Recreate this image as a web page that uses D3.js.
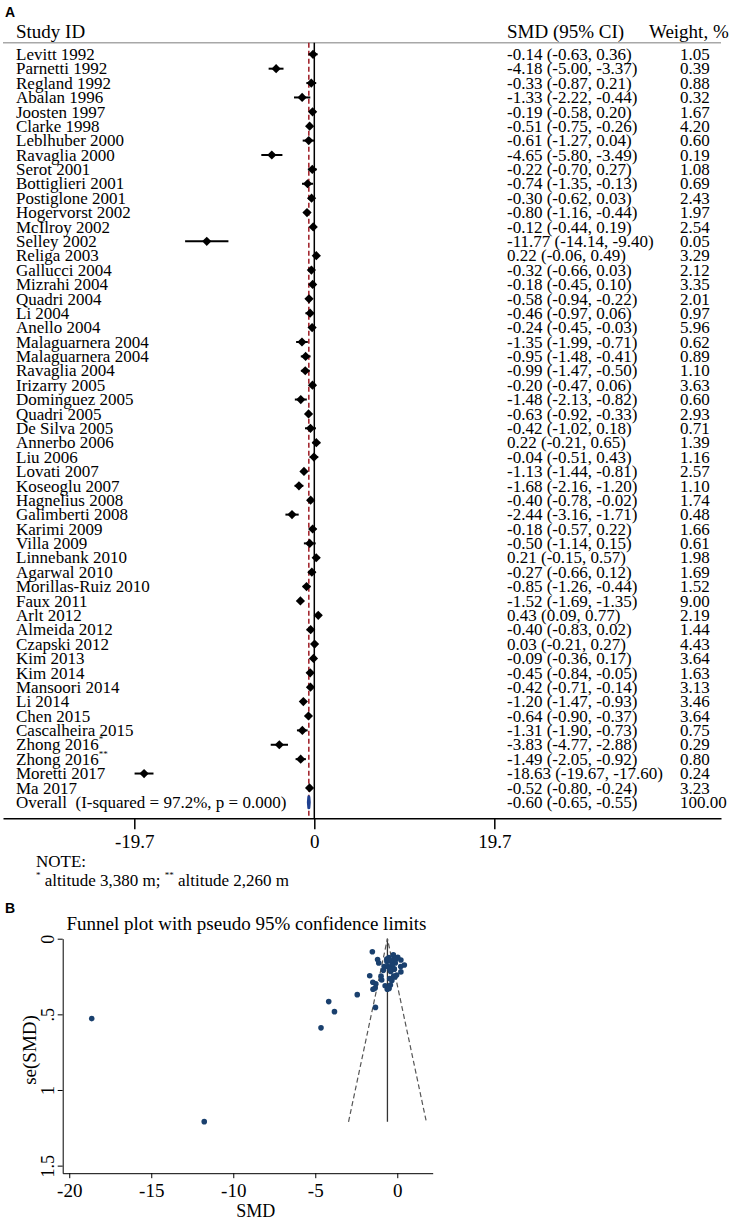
<!DOCTYPE html>
<html>
<head>
<meta charset="utf-8">
<script src="https://cdn.jsdelivr.net/npm/d3@7"></script>
<style>
  body { margin: 0; background: #fff; }
  text { font-family: "Liberation Serif", "Times New Roman", serif; fill: #000; }
  .panel { font-family: "Liberation Sans", Arial, sans-serif; font-weight: bold; }
</style>
</head>
<body>
<svg id="chart" width="732" height="1220"></svg>
<script>
// study data
const studies = ['Levitt 1992', 'Parnetti 1992', 'Regland 1992', 'Abalan 1996', 'Joosten 1997',
  'Clarke 1998', 'Leblhuber 2000', 'Ravaglia 2000', 'Serot 2001', 'Bottiglieri 2001',
  'Postiglone 2001', 'Hogervorst 2002', 'McIlroy 2002', 'Selley 2002', 'Religa 2003',
  'Gallucci 2004', 'Mizrahi 2004', 'Quadri 2004', 'Li 2004', 'Anello 2004',
  'Malaguarnera 2004', 'Malaguarnera 2004', 'Ravaglia 2004', 'Irizarry 2005', 'Dominguez 2005',
  'Quadri 2005', 'De Silva 2005', 'Annerbo 2006', 'Liu 2006', 'Lovati 2007',
  'Koseoglu 2007', 'Hagnelius 2008', 'Galimberti 2008', 'Karimi 2009', 'Villa 2009',
  'Linnebank 2010', 'Agarwal 2010', 'Morillas-Ruiz 2010', 'Faux 2011', 'Arlt 2012',
  'Almeida 2012', 'Czapski 2012', 'Kim 2013', 'Kim 2014', 'Mansoori 2014',
  'Li 2014', 'Chen 2015', 'Cascalheira 2015', 'Zhong 2016', 'Zhong 2016',
  'Moretti 2017', 'Ma 2017']
const marks = ['', '', '', '', '', '', '', '', '', '', '', '', '', '', '', '', '', '', '', '',
  '', '', '', '', '', '', '', '', '', '', '', '', '', '', '', '', '', '', '', '',
  '', '', '', '', '', '', '', '', '*', '**', '', '']
const smd = [-0.14, -4.18, -0.33, -1.33, -0.19, -0.51, -0.61, -4.65, -0.22, -0.74,
  -0.30, -0.80, -0.12, -11.77, 0.22, -0.32, -0.18, -0.58, -0.46, -0.24,
  -1.35, -0.95, -0.99, -0.20, -1.48, -0.63, -0.42, 0.22, -0.04, -1.13,
  -1.68, -0.40, -2.44, -0.18, -0.50, 0.21, -0.27, -0.85, -1.52, 0.43,
  -0.40, 0.03, -0.09, -0.45, -0.42, -1.20, -0.64, -1.31, -3.83, -1.49,
  -18.63, -0.52]
const lower = [-0.63, -5.00, -0.87, -2.22, -0.58, -0.75, -1.27, -5.80, -0.70, -1.35,
  -0.62, -1.16, -0.44, -14.14, -0.06, -0.66, -0.45, -0.94, -0.97, -0.45,
  -1.99, -1.48, -1.47, -0.47, -2.13, -0.92, -1.02, -0.21, -0.51, -1.44,
  -2.16, -0.78, -3.16, -0.57, -1.14, -0.15, -0.66, -1.26, -1.69, 0.09,
  -0.83, -0.21, -0.36, -0.84, -0.71, -1.47, -0.90, -1.90, -4.77, -2.05,
  -19.67, -0.80]
const upper = [0.36, -3.37, 0.21, -0.44, 0.20, -0.26, 0.04, -3.49, 0.27, -0.13,
  0.03, -0.44, 0.19, -9.40, 0.49, 0.03, 0.10, -0.22, 0.06, -0.03,
  -0.71, -0.41, -0.50, 0.06, -0.82, -0.33, 0.18, 0.65, 0.43, -0.81,
  -1.20, -0.02, -1.71, 0.22, 0.15, 0.57, 0.12, -0.44, -1.35, 0.77,
  0.02, 0.27, 0.17, -0.05, -0.14, -0.93, -0.37, -0.73, -2.88, -0.92,
  -17.60, -0.24]
const weights = [1.05, 0.39, 0.88, 0.32, 1.67, 4.20, 0.60, 0.19, 1.08, 0.69,
  2.43, 1.97, 2.54, 0.05, 3.29, 2.12, 3.35, 2.01, 0.97, 5.96,
  0.62, 0.89, 1.10, 3.63, 0.60, 2.93, 0.71, 1.39, 1.16, 2.57,
  1.10, 1.74, 0.48, 1.66, 0.61, 1.98, 1.69, 1.52, 9.00, 2.19,
  1.44, 4.43, 3.64, 1.63, 3.13, 3.46, 3.64, 0.75, 0.29, 0.80,
  0.24, 3.23]
const overall = { smd: -0.60, lower: -0.65, upper: -0.55, weight: 100.00 }
const overallLabel = 'Overall  (I-squared = 97.2%, p = 0.000)'
const forestTicks = [-19.7, 0, 19.7]
const funnelXTicks = [-20, -15, -10, -5, 0]
const funnelYTicks = [0, 0.5, 1, 1.5]
const funnelYLabels = ['0', '.5', '1', '1.5']
const funnelMaxSe = 1.21

const svg = d3.select('#chart')
const fmt = v => v.toFixed(2)

// ---------- panel A: forest plot ----------
const nRows = studies.length + 1
const x = d3.scaleLinear().domain([-34.07, 44.51]).range([3, 721])
const y = d3.scaleLinear().domain([0, nRows - 1]).range([54.3, 802.3])
const axisY = 818.3
const headY = 42.7

svg.append('text').attr('class', 'panel')
  .attr('x', 5).attr('y', 17).attr('font-size', '14px').text('A')

const head = svg.append('g').attr('font-size', '19px')
head.append('text').attr('x', 16).attr('y', 38).text('Study ID')
head.append('text').attr('x', 507).attr('y', 38).text('SMD (95% CI)')
head.append('text').attr('x', 649).attr('y', 38).text('Weight, %')

svg.append('line')
  .attr('x1', 3).attr('x2', 721).attr('y1', headY).attr('y2', headY)
  .attr('stroke', '#a8a8a8').attr('stroke-width', 1.5)

// reference lines
svg.append('line')
  .attr('x1', x(0)).attr('x2', x(0)).attr('y1', headY).attr('y2', axisY)
  .attr('stroke', '#000').attr('stroke-width', 1.5)
svg.append('line')
  .attr('x1', x(overall.smd)).attr('x2', x(overall.smd)).attr('y1', headY).attr('y2', axisY)
  .attr('stroke', '#9e1b24').attr('stroke-width', 1.5).attr('stroke-dasharray', '5,3')

const rows = svg.append('g')
  .selectAll('g')
  .data(studies.map((s, i) => ({ s, i, m: marks[i], est: smd[i], lo: lower[i], hi: upper[i], w: weights[i] })))
  .join('g')

rows.append('line')
  .attr('x1', d => x(d.lo)).attr('x2', d => x(d.hi))
  .attr('y1', d => y(d.i)).attr('y2', d => y(d.i))
  .attr('stroke', '#000').attr('stroke-width', 2)

rows.append('path')
  .attr('d', d => {
    const cx = x(d.est), cy = y(d.i), r = 4.6
    return `M${cx - r},${cy}L${cx},${cy - r}L${cx + r},${cy}L${cx},${cy + r}Z`
  })
  .attr('fill', '#000')

const label = rows.append('text')
  .attr('x', 16).attr('y', d => y(d.i) + 5.7)
  .attr('font-size', '17px')
label.append('tspan').text(d => d.s)
label.filter(d => d.m).append('tspan')
  .attr('font-size', '9px').attr('dy', -8).text(d => d.m)

rows.append('text')
  .attr('x', 507).attr('y', d => y(d.i) + 5.7)
  .attr('font-size', '17px')
  .text(d => `${fmt(d.est)} (${fmt(d.lo)}, ${fmt(d.hi)})`)

rows.append('text')
  .attr('x', 680).attr('y', d => y(d.i) + 5.7)
  .attr('font-size', '17px')
  .text(d => fmt(d.w))

// overall row
const oy = y(nRows - 1)
svg.append('path')
  .attr('d', `M${x(overall.lower)},${oy}L${x(overall.smd)},${oy - 5.5}L${x(overall.upper)},${oy}L${x(overall.smd)},${oy + 5.5}Z`)
  .attr('fill', '#1f3f8f').attr('stroke', '#1f3f8f').attr('stroke-width', 3)
  .attr('stroke-linejoin', 'round')
svg.append('text')
  .attr('x', 16).attr('y', oy + 5.7).attr('font-size', '17px')
  .style('white-space', 'pre').text(overallLabel)
svg.append('text')
  .attr('x', 507).attr('y', oy + 5.7).attr('font-size', '17px')
  .text(`${fmt(overall.smd)} (${fmt(overall.lower)}, ${fmt(overall.upper)})`)
svg.append('text')
  .attr('x', 680).attr('y', oy + 5.7).attr('font-size', '17px')
  .text(fmt(overall.weight))

// bottom axis
const fAxis = svg.append('g')
  .attr('transform', `translate(0,${axisY})`)
  .call(d3.axisBottom(x).tickValues(forestTicks).tickSize(11).tickSizeOuter(0)
    .tickFormat(d => String(d)))
fAxis.select('.domain').attr('stroke-width', 1.5)
fAxis.selectAll('.tick line').attr('stroke-width', 1.5)
fAxis.selectAll('.tick text')
  .attr('font-family', '"Liberation Serif", "Times New Roman", serif')
  .attr('font-size', '19px').attr('y', 30).attr('dy', 0)

// note
svg.append('text').attr('x', 36).attr('y', 866.5).attr('font-size', '17px').text('NOTE:')
const note = svg.append('text').attr('x', 36).attr('y', 886).attr('font-size', '17px')
note.append('tspan').attr('font-size', '9px').attr('dy', -8).text('*')
note.append('tspan').attr('dy', 8).text(' altitude 3,380 m; ')
note.append('tspan').attr('font-size', '9px').attr('dy', -8).text('**')
note.append('tspan').attr('dy', 8).text(' altitude 2,260 m')

// ---------- panel B: funnel plot ----------
const fx = d3.scaleLinear().domain([-20.4, 2.16]).range([62.7, 432.7])
const fy = d3.scaleLinear().domain([0, 1.55]).range([938.7, 1173.2])

svg.append('text').attr('class', 'panel')
  .attr('x', 5).attr('y', 913).attr('font-size', '14px').text('B')
svg.append('text')
  .attr('x', 66.5).attr('y', 930).attr('font-size', '19px')
  .text('Funnel plot with pseudo 95% confidence limits')

const se = lower.map((lo, i) => (upper[i] - lo) / 3.92)

// pseudo confidence limits
svg.append('line')
  .attr('x1', fx(overall.smd)).attr('x2', fx(overall.smd))
  .attr('y1', fy(0)).attr('y2', fy(funnelMaxSe))
  .attr('stroke', '#333').attr('stroke-width', 1.3)
svg.append('path')
  .attr('d', d3.line()([
    [fx(overall.smd - 1.96 * funnelMaxSe), fy(funnelMaxSe)],
    [fx(overall.smd), fy(0)],
    [fx(overall.smd + 1.96 * funnelMaxSe), fy(funnelMaxSe)]
  ]))
  .attr('fill', 'none').attr('stroke', '#555').attr('stroke-width', 1.2)
  .attr('stroke-dasharray', '5,3')

svg.append('g')
  .selectAll('circle')
  .data(smd.map((v, i) => ({ v, s: se[i] })))
  .join('circle')
  .attr('cx', d => fx(d.v)).attr('cy', d => fy(d.s)).attr('r', 2.8)
  .attr('fill', '#1a406e')

const yAx = svg.append('g')
  .attr('transform', 'translate(62.7,0)')
  .call(d3.axisLeft(fy).tickValues(funnelYTicks).tickSize(5).tickSizeOuter(0)
    .tickFormat((d, i) => funnelYLabels[i]))
yAx.selectAll('.tick text')
  .attr('font-family', '"Liberation Serif", "Times New Roman", serif')
  .attr('font-size', '18px')
  .attr('x', 0).attr('dy', 0).attr('text-anchor', 'middle')
  .attr('transform', 'translate(-9,0) rotate(-90)')

const xAx = svg.append('g')
  .attr('transform', 'translate(0,1173.2)')
  .call(d3.axisBottom(fx).tickValues(funnelXTicks).tickSize(5).tickSizeOuter(0))
xAx.selectAll('.tick text')
  .attr('font-family', '"Liberation Serif", "Times New Roman", serif')
  .attr('font-size', '19px').attr('y', 23.5).attr('dy', 0)
  .text(d => String(d))

svg.append('text')
  .attr('transform', 'translate(36,1050) rotate(-90)')
  .attr('text-anchor', 'middle').attr('font-size', '19px').text('se(SMD)')
svg.append('text')
  .attr('x', 255.7).attr('y', 1217).attr('text-anchor', 'middle')
  .attr('font-size', '18px').text('SMD')
</script>
</body>
</html>
